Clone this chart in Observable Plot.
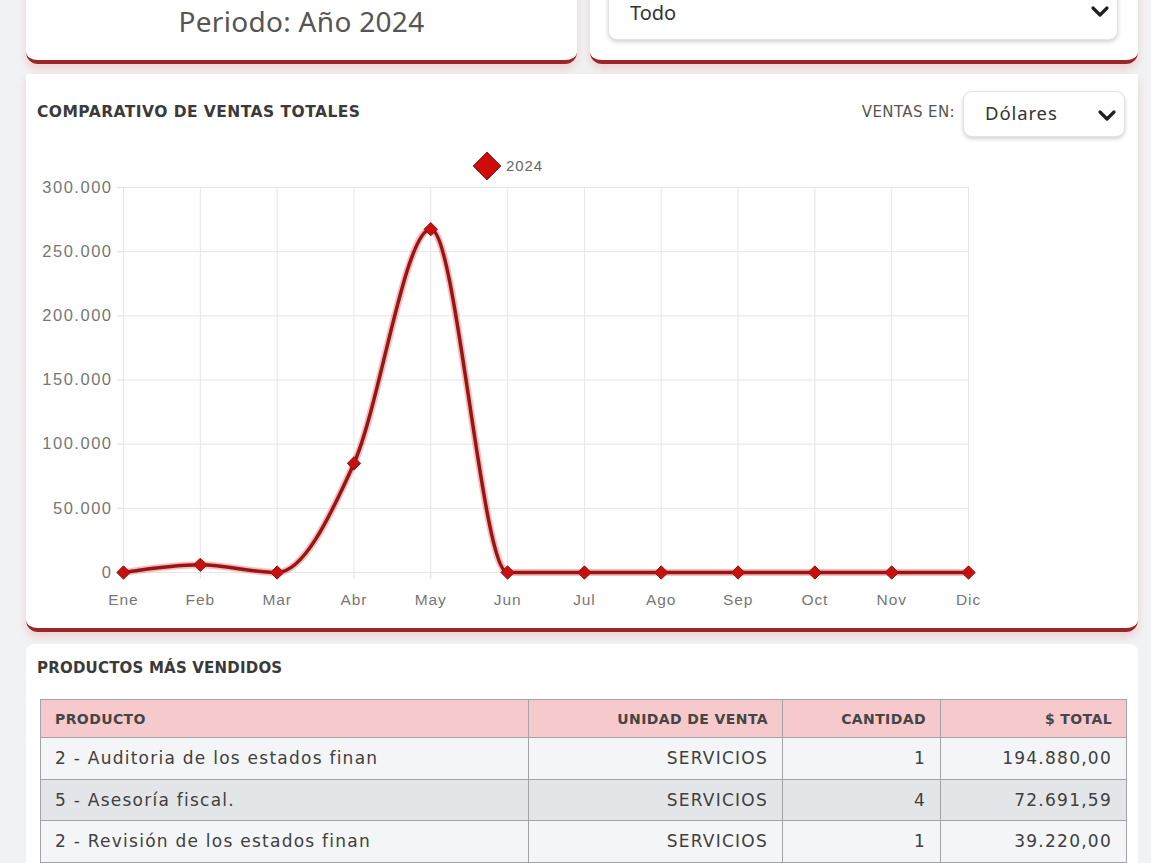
<!DOCTYPE html>
<html>
<head>
<meta charset="utf-8">
<script src="https://cdn.jsdelivr.net/npm/d3@7"></script>
<script src="https://cdn.jsdelivr.net/npm/@observablehq/plot@0.6"></script>
<style>
  html, body { margin:0; padding:0; }
  body { width:1151px; height:863px; overflow:hidden; background:#f1f2f4; position:relative; font-family:"DejaVu Sans", "Noto Sans", sans-serif; color:#444; }
  .abs { position:absolute; }
  .card { position:absolute; background:#fff; box-sizing:border-box; }
  .redcard { border-bottom:4px solid #9c2528; border-radius:0 0 12px 12px; box-shadow:0 5px 8px rgba(230,60,60,0.18); }
  .select { position:absolute; background:#fff; border:1px solid #e2e2e2; border-radius:9px; box-shadow:0 2px 4px rgba(0,0,0,0.18); box-sizing:border-box; }
  .chev { position:absolute; }
  #chart svg text { letter-spacing:0.9px; }
  table { border-collapse:collapse; table-layout:fixed; position:absolute; left:40px; top:699px; width:1086px; }
  td, th { border:1px solid #a3a3a8; padding:0 14px; box-sizing:border-box; white-space:nowrap; overflow:hidden; }
  th { height:38px; background:#f6cacc; font-weight:bold; font-size:14px; letter-spacing:0.4px; color:#454545; text-align:right; }
  td { height:41.5px; font-size:17px; letter-spacing:1.25px; color:#404040; text-align:right; }
  tr.r1 td, tr.r3 td { background:#f4f5f7; }
  tr.r2 td { background:#e4e5e9; }
  .left { text-align:left; }
</style>
</head>
<body>
<!-- top cards -->
<div class="card redcard" style="left:26px; top:-20px; width:551px; height:84px;"></div>
<div class="abs" style="left:26px; width:551px; top:2px; text-align:center; font-family:'Noto Sans'; font-size:28px; color:#555; letter-spacing:0.3px;">Periodo: Año 2024</div>
<div class="card redcard" style="left:590px; top:-20px; width:548px; height:84px;"></div>
<div class="select" style="left:608px; top:-12px; width:510px; height:52px;"></div>
<div class="abs" style="left:630px; top:0px; line-height:26px; font-family:'Noto Sans'; font-size:20px; color:#333;">Todo</div>
<svg class="chev" style="left:1090px; top:4px;" width="20" height="16"><path d="M3 4 L10 11 L17 4" fill="none" stroke="#222" stroke-width="3.2" stroke-linecap="round" stroke-linejoin="round"/></svg>

<!-- chart card -->
<div class="card redcard" style="left:26px; top:74px; width:1112px; height:558px;"></div>
<div class="abs" style="left:37px; top:103px; font-weight:bold; font-size:15.5px; color:#3a3a3a; letter-spacing:0.45px;">COMPARATIVO DE VENTAS TOTALES</div>
<div class="abs" style="left:780px; width:175px; text-align:right; top:103px; font-size:15px; color:#555; letter-spacing:0.4px;">VENTAS EN:</div>
<div class="select" style="left:963px; top:91px; width:162px; height:46px;"></div>
<div class="abs" style="left:985px; top:100px; font-family:'Noto Sans'; font-size:18.5px; color:#333; letter-spacing:0.9px;">Dólares</div>
<svg class="chev" style="left:1097px; top:108px;" width="20" height="16"><path d="M3 4 L10 11 L17 4" fill="none" stroke="#222" stroke-width="3.2" stroke-linecap="round" stroke-linejoin="round"/></svg>

<!-- legend -->
<div class="abs" id="legendMark" style="left:477px; top:156px; width:20px; height:20px; background:#d10a0a; border:1px solid #8b1a1a; transform:rotate(45deg); box-sizing:border-box;"></div>
<div class="abs" id="legendText" style="left:506px; top:157px; font-family:'Liberation Sans'; font-size:15px; color:#666; letter-spacing:0.9px;"></div>

<div id="chart" class="abs" style="left:26px; top:140px;"></div>

<!-- table card -->
<div class="card" style="left:26px; top:644px; width:1112px; height:260px; border-radius:8px;"></div>
<div class="abs" style="left:37px; top:659px; font-weight:bold; font-size:15px; color:#3a3a3a; letter-spacing:0.2px;">PRODUCTOS MÁS VENDIDOS</div>
<div id="tableWrap"></div>

<script>
// ---- chart data ----
const serieNombre = "2024";
const meses = ["Ene","Feb","Mar","Abr","May","Jun","Jul","Ago","Sep","Oct","Nov","Dic"];
const ventas2024 = [0, 6000, 0, 85000, 267500, 0, 0, 0, 0, 0, 0, 0];
const yTicks = [0, 50000, 100000, 150000, 200000, 250000, 300000];

// ---- table data ----
const columnas = ["PRODUCTO", "UNIDAD DE VENTA", "CANTIDAD", "$ TOTAL"];
const productos = ["2 - Auditoria de los estados finan", "5 - Asesoría fiscal.", "2 - Revisión de los estados finan"];
const unidades = ["SERVICIOS", "SERVICIOS", "SERVICIOS"];
const cantidades = [1, 4, 1];
const totales = [194880.00, 72691.59, 39220.00];

const loc = d3.formatLocale({decimal: ",", thousands: ".", grouping: [3], currency: ["$", ""]});
const fmtInt = loc.format(",d");
const fmtMoney = loc.format(",.2f");

const data = meses.map((m, i) => ({mes: m, valor: ventas2024[i]}));

document.getElementById("legendText").textContent = serieNombre;

const chart = Plot.plot({
  width: 1112,
  height: 475,
  marginLeft: 97,
  marginRight: 170,
  marginTop: 47,
  marginBottom: 43,
  style: {fontFamily: "Liberation Sans, Arial, sans-serif", fontSize: "15.5px", color: "#777", background: "transparent"},
  x: {type: "point", domain: meses, padding: 0, round: false},
  y: {domain: [0, 300000]},
  marks: [
    Plot.gridX(meses, {stroke: "#e6e6e6", strokeOpacity: 1}),
    Plot.gridY(yTicks, {stroke: "#e6e6e6", strokeOpacity: 1}),
    Plot.axisY({ticks: yTicks, tickFormat: fmtInt, tickSize: 6, tickPadding: 5, stroke: "#dedede", fill: "#777", fontSize: 16.5, label: null}),
    Plot.axisX({tickSize: 7, tickPadding: 14, stroke: "#dedede", fill: "#777", label: null}),
    Plot.line(data, {x: "mes", y: "valor", curve: "monotone-x", stroke: "#ff2a2a", strokeWidth: 7, strokeOpacity: 0.33}),
    Plot.line(data, {x: "mes", y: "valor", curve: "monotone-x", stroke: "#921818", strokeWidth: 3.5}),
    Plot.dot(data, {x: "mes", y: "valor", symbol: "diamond2", r: 6, fill: "#c8100f", stroke: "#8a1212", strokeWidth: 1})
  ]
});
d3.select(chart).selectAll('g[aria-label="y-axis tick label"] text').style("letter-spacing", "1.5px");
document.getElementById("chart").appendChild(chart);

// ---- table ----
const table = document.createElement("table");
const colgroup = document.createElement("colgroup");
[488, 254, 158, 186].forEach(w => { const c = document.createElement("col"); c.style.width = w + "px"; colgroup.appendChild(c); });
table.appendChild(colgroup);
const thead = document.createElement("tr");
columnas.forEach((c, i) => { const th = document.createElement("th"); th.textContent = c; if (i === 0) th.className = "left"; thead.appendChild(th); });
table.appendChild(thead);
productos.forEach((p, i) => {
  const tr = document.createElement("tr");
  tr.className = "r" + (i + 1);
  const cells = [p, unidades[i], String(cantidades[i]), fmtMoney(totales[i])];
  cells.forEach((v, j) => { const td = document.createElement("td"); td.textContent = v; if (j === 0) td.className = "left"; tr.appendChild(td); });
  table.appendChild(tr);
});
document.getElementById("tableWrap").appendChild(table);
</script>
</body>
</html>
